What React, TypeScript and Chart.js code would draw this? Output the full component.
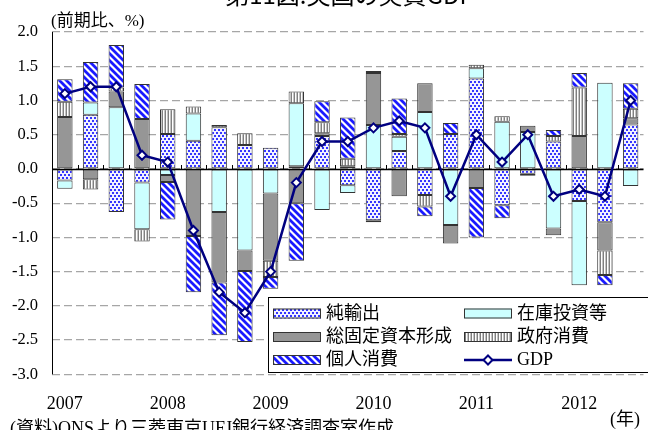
import React, { useEffect, useRef } from 'react';
import { Chart, registerables } from 'chart.js';

Chart.register(...registerables);

// Quarterly periods, 2007 Q1 – 2012 Q3
const QUARTERS = [
  '2007Q1', '2007Q2', '2007Q3', '2007Q4',
  '2008Q1', '2008Q2', '2008Q3', '2008Q4',
  '2009Q1', '2009Q2', '2009Q3', '2009Q4',
  '2010Q1', '2010Q2', '2010Q3', '2010Q4',
  '2011Q1', '2011Q2', '2011Q3', '2011Q4',
  '2012Q1', '2012Q2', '2012Q3',
];

// Contributions to quarter-on-quarter real GDP growth (percentage points)
const NET_EXPORTS = [
  -0.17, 0.79, -0.63, -0.2, 0.51, 0.41, 0.61, 0.35, 0.31, 0.04, 0.48, -0.24,
  -0.75, 0.26, -0.38, 0.51, 1.32, -0.53, -0.07, 0.4, -0.47, -0.78, 0.65,
];
const INVENTORIES = [
  -0.12, 0.18, 0.9, -0.68, -0.09, 0.4, -0.63, -1.19, -0.36, 0.92, -0.6, -0.11,
  0.64, 0.21, 0.83, -0.82, 0.15, 0.69, 0.54, -0.87, -1.23, 1.26, -0.25,
];
const FIXED_INVESTMENT = [
  0.76, -0.15, 0.23, 0.73, -0.1, -0.98, -1.03, -0.3, -0.98, -0.5, 0.04, 0.04,
  0.76, -0.4, 0.42, -0.27, -0.28, 0, 0.09, -0.1, 0.48, -0.41, 0.09,
];
const GOVERNMENT = [
  0.22, -0.15, 0.06, -0.18, 0.36, 0.1, 0.03, 0.17, -0.24, 0.17, 0.16, 0.11,
  -0.03, 0.04, -0.17, 0, 0.05, 0.08, 0, 0.08, 0.71, -0.36, 0.14,
];
const CONSUMPTION = [
  0.33, 0.59, 0.62, 0.51, -0.55, -0.82, -0.77, -1.04, -0.17, -0.84, 0.31, 0.6,
  0.03, 0.52, -0.14, 0.16, -0.72, -0.19, -0.03, 0.09, 0.21, -0.15, 0.37,
];
const GDP = [
  1.1, 1.2, 1.2, 0.2, 0.1, -0.9, -1.8, -2.1, -1.5, -0.2, 0.4, 0.4,
  0.6, 0.7, 0.6, -0.4, 0.5, 0.1, 0.5, -0.4, -0.3, -0.4, 1.0,
];

const SERIES_NAMES = ['純輸出', '在庫投資等', '総固定資本形成', '政府消費', '個人消費', 'GDP'];

const TITLE = '第11図:英国の実質GDP';
const UNIT_LABEL = '(前期比、%)';
const SOURCE_NOTE = '(資料)ONSより三菱東京UFJ銀行経済調査室作成';
const YEAR_UNIT = '(年)';

const NAVY = '#000080';
const CYAN = '#ccffff';
const GRAY = '#969696';
const EDGE = '#333333';
const SERIF = '"Liberation Serif", "Noto Sans CJK JP", serif';
const GOTHIC = '"Noto Sans CJK JP", "Noto Sans", sans-serif';

function makeTile(
  ctx: CanvasRenderingContext2D,
  w: number,
  h: number,
  paint: (g: CanvasRenderingContext2D) => void,
): CanvasPattern {
  const c = document.createElement('canvas');
  c.width = w;
  c.height = h;
  const g = c.getContext('2d')!;
  paint(g);
  return ctx.createPattern(c, 'repeat')!;
}

export default function App() {
  const ref = useRef<HTMLCanvasElement>(null);

  useEffect(() => {
    const canvas = ref.current!;
    const ctx0 = canvas.getContext('2d')!;

    const dots = makeTile(ctx0, 4, 6, (g) => {
      g.fillStyle = '#f2f2ff';
      g.fillRect(0, 0, 4, 6);
      g.fillStyle = '#3535ff';
      g.fillRect(0, 0, 2, 2);
      g.fillRect(2, 3, 2, 2);
    });
    const hatch = makeTile(ctx0, 7, 7, (g) => {
      g.fillStyle = '#ffffff';
      g.fillRect(0, 0, 7, 7);
      g.strokeStyle = '#1a1aff';
      g.lineWidth = 2.8;
      g.beginPath();
      for (const k of [-1, 0, 1]) {
        g.moveTo(k * 7 - 1, -1);
        g.lineTo(k * 7 + 8, 8);
      }
      g.stroke();
    });
    const stripes = makeTile(ctx0, 3, 1, (g) => {
      g.fillStyle = '#7f7f7f';
      g.fillRect(0, 0, 1, 1);
      g.fillStyle = '#ffffff';
      g.fillRect(1, 0, 1, 1);
      g.fillStyle = '#c4c4c4';
      g.fillRect(2, 0, 1, 1);
    });

    const fills: (string | CanvasPattern)[] = [dots, CYAN, GRAY, stripes, hatch];
    const values = [NET_EXPORTS, INVENTORIES, FIXED_INVESTMENT, GOVERNMENT, CONSUMPTION];

    const drawDiamond = (ctx: CanvasRenderingContext2D, cx: number, cy: number, r: number) => {
      ctx.beginPath();
      ctx.moveTo(cx, cy - r);
      ctx.lineTo(cx + r, cy);
      ctx.lineTo(cx, cy + r);
      ctx.lineTo(cx - r, cy);
      ctx.closePath();
      ctx.fillStyle = '#ffffff';
      ctx.fill();
      ctx.lineWidth = 2;
      ctx.strokeStyle = NAVY;
      ctx.stroke();
    };

    const decor = {
      id: 'decor',
      afterDatasetDraw(chart: any, args: any) {
        if (args.index !== 0) return;
        const { ctx, chartArea: a, scales } = chart;
        const x = scales.x;
        const y = scales.y;
        const y0 = Math.round(y.getPixelForValue(0)) + 0.5;
        ctx.save();
        ctx.strokeStyle = '#000000';
        // zero line
        ctx.lineWidth = 1.5;
        ctx.beginPath();
        ctx.moveTo(a.left, y0);
        ctx.lineTo(a.right, y0);
        ctx.stroke();
        // tick marks between quarters
        ctx.lineWidth = 1;
        ctx.beginPath();
        for (let i = 1; i < QUARTERS.length; i++) {
          const px = Math.round((x.getPixelForValue(i - 1) + x.getPixelForValue(i)) / 2) + 0.5;
          ctx.moveTo(px, y0);
          ctx.lineTo(px, y0 - 4.5);
        }
        ctx.stroke();
        // value axis line
        ctx.beginPath();
        ctx.moveTo(Math.round(a.left) + 0.5, a.top);
        ctx.lineTo(Math.round(a.left) + 0.5, a.bottom);
        ctx.stroke();
        ctx.restore();
      },
      afterDraw(chart: any) {
        const { ctx } = chart;
        ctx.save();
        ctx.fillStyle = '#000000';

        // title
        ctx.font = `24px ${GOTHIC}`;
        ctx.textAlign = 'center';
        ctx.textBaseline = 'alphabetic';
        ctx.fillText(TITLE, 350, 4);

        // unit label
        ctx.font = `17px ${SERIF}`;
        ctx.textAlign = 'left';
        ctx.textBaseline = 'middle';
        ctx.fillText(UNIT_LABEL, 51, 21.5);

        // legend box
        const lx = 268.5;
        const ly = 297.5;
        ctx.fillStyle = '#ffffff';
        ctx.fillRect(lx, ly, 400, 75);
        ctx.strokeStyle = '#000000';
        ctx.lineWidth = 1;
        ctx.strokeRect(lx, ly, 400, 75);

        const cols = [273, 464];
        const rows = [313.5, 337, 360];
        ctx.font = `18px ${SERIF}`;
        ctx.textBaseline = 'middle';
        for (let i = 0; i < SERIES_NAMES.length; i++) {
          const cx = cols[i % 2];
          const cy = rows[Math.floor(i / 2)];
          if (i < 5) {
            ctx.fillStyle = fills[i] as any;
            ctx.fillRect(cx, cy - 5, 48, 10);
            ctx.strokeStyle = EDGE;
            ctx.lineWidth = 1;
            ctx.strokeRect(cx + 0.5, cy - 4.5, 47, 9);
          } else {
            ctx.strokeStyle = NAVY;
            ctx.lineWidth = 2.5;
            ctx.beginPath();
            ctx.moveTo(cx, cy);
            ctx.lineTo(cx + 48, cy);
            ctx.stroke();
            drawDiamond(ctx, cx + 24, cy, 4.5);
          }
          ctx.fillStyle = '#000000';
          ctx.textAlign = 'left';
          ctx.fillText(SERIES_NAMES[i], cx + 53, cy + 0.5);
        }

        // year unit and source
        ctx.font = `18px ${SERIF}`;
        ctx.textBaseline = 'middle';
        ctx.fillText(YEAR_UNIT, 610, 420);
        ctx.textBaseline = 'alphabetic';
        ctx.fillText(SOURCE_NOTE, 10, 434);
        ctx.restore();
      },
    };

    const chart = new Chart(canvas, {
      type: 'bar',
      data: {
        labels: QUARTERS,
        datasets: [
          ...values.map((arr, i) => ({
            type: 'bar' as const,
            label: SERIES_NAMES[i],
            data: arr.map((v) => (v === 0 ? null : v)),
            backgroundColor: fills[i] as any,
            borderColor: EDGE,
            borderWidth: 1,
            borderSkipped: false as const,
            stack: 'parts',
            order: 1,
            barPercentage: 0.6,
            categoryPercentage: 1,
          })),
          {
            type: 'line' as const,
            label: SERIES_NAMES[5],
            data: GDP,
            borderColor: NAVY,
            borderWidth: 2.5,
            pointStyle: 'rectRot',
            pointRadius: 4.5,
            pointBackgroundColor: '#ffffff',
            pointBorderColor: NAVY,
            pointBorderWidth: 2,
            tension: 0,
            stack: 'total',
            order: 0,
          },
        ] as any,
      },
      options: {
        animation: false,
        responsive: false,
        devicePixelRatio: 1,
        layout: { padding: { top: 32, left: 0, right: 0, bottom: 0 } },
        plugins: {
          legend: { display: false },
          tooltip: { enabled: false },
          title: { display: false },
        },
        scales: {
          x: {
            stacked: true,
            offset: true,
            grid: { display: false, drawTicks: false },
            border: { display: false },
            ticks: {
              autoSkip: false,
              maxRotation: 0,
              minRotation: 0,
              padding: 19,
              color: '#000000',
              font: { family: SERIF, size: 18 },
              callback: (_v: any, i: number) => {
                const q = QUARTERS[i];
                return q.endsWith('Q1') ? q.slice(0, 4) : '';
              },
            },
            afterFit: (s: any) => {
              s.height = 55.7;
            },
          },
          y: {
            stacked: true,
            min: -3,
            max: 2,
            grid: { color: '#a6a6a6', lineWidth: 1.3, drawTicks: false },
            border: { display: false, dash: [8, 4] },
            ticks: {
              stepSize: 0.5,
              padding: 14,
              color: '#000000',
              font: { family: SERIF, size: 16.5 },
              callback: (v: any) => Number(v).toFixed(1),
            },
            afterFit: (s: any) => {
              s.width = 52;
            },
          },
        },
      } as any,
      plugins: [decor],
    });

    return () => chart.destroy();
  }, []);

  return (
    <div
      style={{
        position: 'fixed',
        left: 0,
        top: 0,
        width: 648,
        height: 430,
        overflow: 'hidden',
        background: '#ffffff',
      }}
    >
      <canvas ref={ref} width={650} height={430} style={{ display: 'block' }} />
    </div>
  );
}
